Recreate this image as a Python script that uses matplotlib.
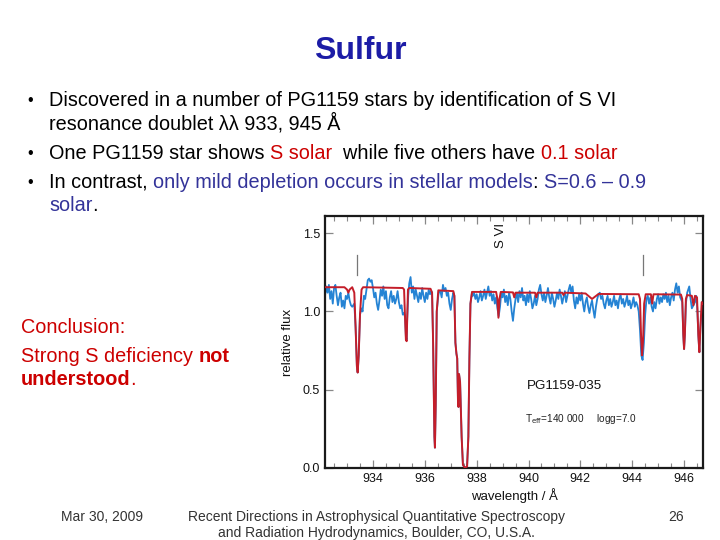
import matplotlib
matplotlib.use("Agg")
import matplotlib.pyplot as plt
from matplotlib import font_manager
from matplotlib.ticker import MultipleLocator

# ---------------- data ----------------
obs_wave = [932.15, 932.2, 932.25, 932.3, 932.35, 932.4, 932.45, 932.5, 932.55, 932.6, 932.65, 932.7, 932.75, 932.8, 932.85, 932.9, 932.95,
            933.0, 933.05, 933.1, 933.15, 933.2, 933.28, 933.33, 933.38, 933.41, 933.45, 933.5, 933.56, 933.6, 933.65, 933.7, 933.75, 933.8, 933.85, 933.9, 933.95,
            934.0, 934.05, 934.1, 934.15, 934.2, 934.25, 934.3, 934.35, 934.4, 934.45, 934.5, 934.55, 934.6, 934.65, 934.7, 934.75, 934.8, 934.85, 934.9, 934.95,
            935.0, 935.05, 935.1, 935.15, 935.2, 935.24, 935.27, 935.3, 935.32, 935.36, 935.4, 935.45, 935.5, 935.55, 935.6, 935.65, 935.7, 935.75, 935.8, 935.85, 935.9, 935.95,
            936.0, 936.05, 936.1, 936.15, 936.2, 936.25, 936.28, 936.32, 936.37, 936.39, 936.42, 936.46, 936.52, 936.55, 936.6, 936.65, 936.7, 936.75, 936.8, 936.85, 936.9, 936.95,
            937.0, 937.05, 937.1, 937.14, 937.18, 937.22, 937.25, 937.28, 937.3, 937.32, 937.36, 937.42, 937.47, 937.55, 937.63, 937.68, 937.72, 937.76, 937.82, 937.85, 937.9, 937.95,
            938.0, 938.05, 938.1, 938.15, 938.2, 938.25, 938.3, 938.35, 938.4, 938.45, 938.5, 938.55, 938.6, 938.65, 938.7, 938.75, 938.8, 938.85, 938.9, 938.95,
            939.0, 939.05, 939.1, 939.15, 939.2, 939.25, 939.3, 939.35, 939.4, 939.45, 939.5, 939.55, 939.6, 939.65, 939.7, 939.75, 939.8, 939.85, 939.9, 939.95,
            940.0, 940.05, 940.1, 940.15, 940.2, 940.25, 940.3, 940.35, 940.4, 940.45, 940.5, 940.55, 940.6, 940.65, 940.7, 940.75, 940.8, 940.85, 940.9, 940.95,
            941.0, 941.05, 941.1, 941.15, 941.2, 941.25, 941.3, 941.35, 941.4, 941.45, 941.5, 941.55, 941.6, 941.65, 941.7, 941.75, 941.8, 941.85, 941.9, 941.95,
            942.0, 942.05, 942.1, 942.15, 942.2, 942.25, 942.3, 942.35, 942.4, 942.45, 942.5, 942.55, 942.6, 942.65, 942.7, 942.75, 942.8, 942.85, 942.9, 942.95,
            943.0, 943.05, 943.1, 943.15, 943.2, 943.25, 943.3, 943.35, 943.4, 943.45, 943.5, 943.55, 943.6, 943.65, 943.7, 943.75, 943.8, 943.85, 943.9, 943.95,
            944.0, 944.05, 944.1, 944.15, 944.2, 944.25, 944.3, 944.35, 944.4, 944.45, 944.5, 944.55, 944.6, 944.65, 944.7, 944.75, 944.8, 944.85, 944.9, 944.95,
            945.0, 945.05, 945.1, 945.15, 945.2, 945.25, 945.3, 945.35, 945.4, 945.45, 945.5, 945.55, 945.6, 945.65, 945.7, 945.75, 945.8, 945.85, 945.88, 945.93,
            945.97, 946.0, 946.03, 946.07, 946.12, 946.2, 946.25, 946.3, 946.36, 946.42, 946.47, 946.51, 946.55, 946.59, 946.63, 946.68, 946.7]
obs_flux = [1.10, 1.16, 1.12, 1.17, 1.08, 1.13, 1.05, 1.15, 1.17, 1.10, 1.04, 1.09, 1.12, 1.03, 1.07, 1.02, 1.10,
            1.08, 1.12, 1.07, 1.04, 1.03, 1.05, 0.90, 0.65, 0.61, 0.72, 0.98, 1.02, 1.00, 1.10, 1.08, 1.14, 1.20, 1.21, 1.19, 1.20,
            1.15, 1.09, 1.12, 1.05, 1.01, 1.07, 1.14, 1.10, 1.16, 1.08, 1.13, 1.04, 1.02, 1.09, 1.13, 1.06, 1.10, 1.05, 1.08, 1.13,
            1.06, 1.02, 1.04, 0.98, 0.99, 0.96, 0.84, 0.82, 0.95, 1.10, 1.18, 1.22, 1.12, 1.16, 1.08, 1.14, 1.10, 1.06, 1.12, 1.08, 1.15, 1.10,
            1.06, 1.12, 1.08, 1.14, 1.11, 1.13, 1.12, 0.80, 0.20, 0.13, 0.40, 1.00, 1.10, 1.13, 1.13, 1.09, 1.17, 1.13, 1.15, 1.10, 1.12, 1.05,
            1.01, 1.08, 1.12, 1.10, 0.80, 0.73, 0.70, 0.42, 0.39, 0.60, 0.55, 0.20, 0.02, 0.00, 0.01, 0.20, 0.70, 1.05, 1.12, 1.10, 1.12, 1.08,
            1.11, 1.06, 1.09, 1.13, 1.07, 1.10, 1.14, 1.08, 1.12, 1.16, 1.10, 1.13, 1.07, 1.11, 1.05, 1.09, 1.02, 0.97, 1.03, 1.12,
            1.09, 1.14, 1.06, 1.10, 1.04, 1.12, 1.08, 1.00, 0.94, 1.02, 1.08, 1.12, 1.06, 1.13, 1.09, 1.15, 1.07, 1.10, 1.04, 1.11,
            1.06, 1.13, 1.08, 1.02, 1.05, 1.10, 1.04, 1.08, 1.14, 1.17, 1.11, 1.07, 1.12, 1.06, 1.10, 1.15, 1.09, 1.05, 1.12, 1.08,
            1.03, 1.07, 1.12, 1.08, 1.14, 1.10, 1.05, 1.09, 1.13, 1.06, 1.10, 1.14, 1.17, 1.12, 1.16, 1.07, 1.02, 1.09, 1.05, 1.11,
            1.07, 1.12, 1.05, 1.00, 1.06, 1.09, 1.03, 0.99, 1.04, 1.07, 1.01, 0.96, 1.03, 1.08, 1.11, 1.12, 1.08, 1.10, 1.05, 1.02,
            1.07, 1.10, 1.04, 1.08, 1.03, 1.06, 1.10, 1.04, 1.07, 1.02, 1.08, 1.11, 1.05, 1.08, 1.03, 1.06, 1.10, 1.04, 1.07, 1.02,
            1.05, 1.09, 1.03, 1.06, 1.04, 1.00, 0.88, 0.72, 0.69, 0.80, 0.98, 1.08, 1.10, 1.05, 1.09, 1.03, 1.00, 1.06, 1.02, 1.08,
            1.11, 1.05, 1.09, 1.06, 1.11, 1.08, 1.12, 1.06, 1.10, 1.04, 1.09, 1.12, 1.07, 1.14, 1.18, 1.12, 1.16, 1.09, 1.08, 1.06,
            0.85, 0.76, 0.85, 1.05, 1.12, 1.16, 1.08, 1.02, 1.04, 1.06, 1.10, 1.02, 0.85, 0.74, 0.90, 1.00, 0.97]

model_wave = [932.15, 932.9, 933.0, 933.05, 933.1, 933.2, 933.28, 933.33, 933.38, 933.41, 933.45, 933.5, 933.56, 933.62,
              935.15, 935.2, 935.24, 935.27, 935.3, 935.32, 935.35, 935.4,
              936.22, 936.28, 936.32, 936.37, 936.39, 936.42, 936.46, 936.52,
              937.1, 937.14, 937.18, 937.22, 937.25, 937.28, 937.3, 937.32, 937.36, 937.42, 937.47, 937.55, 937.63, 937.68, 937.72, 937.76, 937.82,
              938.75, 938.8, 938.84, 938.88, 938.93, 939.4, 939.45, 939.5, 940.25, 940.3, 940.35, 941.3, 941.35, 941.4,
              942.2, 942.45, 942.7, 944.25, 944.3, 944.34, 944.38, 944.42, 944.46, 944.52, 944.72, 944.77, 944.82,
              945.88, 945.93, 945.97, 946.0, 946.03, 946.07, 946.12, 946.3, 946.36, 946.42, 946.5, 946.55, 946.59, 946.63, 946.68, 946.73]
model_flux = [1.155, 1.155, 1.14, 1.12, 1.14, 1.155, 1.12, 0.90, 0.65, 0.61, 0.72, 0.98, 1.14, 1.155,
              1.15, 1.14, 0.95, 0.82, 0.81, 0.95, 1.14, 1.15,
              1.145, 1.12, 0.80, 0.20, 0.13, 0.40, 1.00, 1.135,
              1.13, 1.10, 0.80, 0.73, 0.70, 0.42, 0.39, 0.60, 0.55, 0.20, 0.02, 0.00, 0.01, 0.20, 0.70, 1.05, 1.125,
              1.125, 1.08, 0.96, 1.08, 1.125, 1.122, 1.09, 1.12, 1.12, 1.09, 1.12, 1.12, 1.105, 1.12,
              1.115, 1.08, 1.112, 1.11, 1.08, 0.85, 0.72, 0.82, 1.05, 1.11, 1.11, 1.05, 1.11,
              1.108, 1.08, 0.85, 0.76, 0.85, 1.08, 1.105, 1.10, 1.04, 1.10, 1.09, 0.85, 0.74, 0.90, 1.06, 1.05]

x_ticks = [934, 936, 938, 940, 942, 944, 946]
y_ticks = [0.0, 0.5, 1.0, 1.5]
svi_lines = [933.38, 944.40]

W, H = 720, 540

def has_font(name):
    try:
        font_manager.findfont(font_manager.FontProperties(family=name), fallback_to_default=False)
        return True
    except Exception:
        return False

FAM = ['Liberation Sans', 'DejaVu Sans']
if has_font('Liberation Sans Narrow'):
    FOOT = ['Liberation Sans Narrow', 'Liberation Sans']
    FOOT_SIZE = 12.0
else:
    FOOT = FAM
    FOOT_SIZE = 10.0

fig = plt.figure(figsize=(7.2, 5.4), dpi=100)
fig.patch.set_facecolor('white')
renderer = fig.canvas.get_renderer()

def fx(x):
    return x / W

def fy(y):
    return 1 - y / H

def text_width(s, size, weight='normal'):
    t = fig.text(0, 0, s, fontsize=size, fontweight=weight, family=FAM)
    w = t.get_window_extent(renderer).width
    t.remove()
    return w

def rainbow(x, y, parts, size):
    # place each coloured part at the advance of the preceding text
    prefix = ''
    for s, color, weight in parts:
        off = text_width(prefix + 'l', size) - text_width('l', size) if prefix else 0.0
        fig.text(fx(x + off), fy(y), s, color=color, fontsize=size, fontweight=weight,
                 family=FAM, va='baseline', ha='left')
        prefix += s

# title
fig.text(0.5, fy(59), 'Sulfur', ha='center', va='baseline', fontsize=23, fontweight='bold',
         color='#1c1ca6', family=FAM)

BS = 14.3
BLK = '#000000'
RED = '#cc0000'
PUR = '#333399'
for yb in (105, 158, 187):
    fig.text(fx(27), fy(yb), '•', fontsize=11.5, family=FAM, va='baseline', ha='left', color=BLK)

rainbow(49, 106, [('Discovered in a number of PG1159 stars by identification of S VI', BLK, 'normal')], BS)
rainbow(49, 129, [('resonance doublet λλ 933, 945 Å', BLK, 'normal')], BS)
rainbow(49, 159, [('One PG1159 star shows ', BLK, 'normal'), ('S solar', RED, 'normal'),
                  ('  while five others have ', BLK, 'normal'), ('0.1 solar', RED, 'normal')], BS)
rainbow(49, 188, [('In contrast, ', BLK, 'normal'),
                  ('only mild depletion occurs in stellar models', PUR, 'normal'),
                  (': ', BLK, 'normal'), ('S=0.6 – 0.9', PUR, 'normal')], BS)
rainbow(49, 211, [('solar', PUR, 'normal'), ('.', BLK, 'normal')], BS)

# conclusion
rainbow(21, 333, [('Conclusion:', RED, 'normal')], BS)
rainbow(21, 362, [('Strong S deficiency ', RED, 'normal'), ('not', RED, 'bold')], BS)
fig.text(fx(21), fy(385), 'understood', color=RED, fontsize=BS, fontweight='bold', family=FAM,
         va='baseline', ha='left')
uw = text_width('understoodl', BS, 'bold') - text_width('l', BS, 'bold')
fig.text(fx(21 + uw), fy(385), '.', color=RED, fontsize=BS, family=FAM, va='baseline', ha='left')

# footer
FC = '#333333'
fig.text(fx(61), fy(521), 'Mar 30, 2009', fontsize=FOOT_SIZE, family=FOOT, color=FC, va='baseline', ha='left')
fig.text(fx(376), fy(521), 'Recent Directions in Astrophysical Quantitative Spectroscopy', fontsize=FOOT_SIZE,
         family=FOOT, color=FC, va='baseline', ha='center')
fig.text(fx(376), fy(537), 'and Radiation Hydrodynamics, Boulder, CO, U.S.A.', fontsize=FOOT_SIZE,
         family=FOOT, color=FC, va='baseline', ha='center')
fig.text(fx(668), fy(521), '26', fontsize=FOOT_SIZE, family=FOOT, color=FC, va='baseline', ha='left')

# ---------------- spectrum panel ----------------
ax = fig.add_axes([fx(325), 1 - 468 / H, 378 / W, 252 / H])
ax.plot(obs_wave, obs_flux, color='#2483d4', lw=1.3, zorder=2)
ax.plot(model_wave, model_flux, color='#c41e2a', lw=1.4, zorder=3)
for w in svi_lines:
    ax.plot([w, w], [1.235, 1.36], color='#777777', lw=0.9, zorder=1)
ax.text(938.93, 1.484, 'S VI', rotation=90, ha='center', va='center', fontsize=9.5, family=FAM, color='#111111')
ax.text(939.95, 0.525, 'PG1159-035', ha='left', va='center', fontsize=9.6, family=FAM, color='#111111')
ax.text(939.87, 0.31, r'T$_{\rm eff}$=140 000     logg=7.0', ha='left', va='center', fontsize=7.2,
        family=FAM, color='#222222')

ax.set_xlim(932.15, 946.73)
ax.set_ylim(0, 1.61)
ax.set_xticks(x_ticks)
ax.set_yticks(y_ticks)
ax.set_yticklabels(['%.1f' % v for v in y_ticks])
ax.xaxis.set_minor_locator(MultipleLocator(0.5))
ax.tick_params(which='both', direction='in', top=True, right=True, colors='#888888',
               labelcolor='#111111', labelsize=9)
ax.tick_params(which='major', length=6, width=0.9)
ax.tick_params(which='minor', length=3.5, width=0.8)
for lab in ax.get_xticklabels() + ax.get_yticklabels():
    lab.set_family(FAM)
for s in ax.spines.values():
    s.set_linewidth(1.6)
    s.set_color('#1a1a1a')
ax.set_xlabel('wavelength / Å', fontsize=9.5, family=FAM, color='#111111', labelpad=2)
ax.set_ylabel('relative flux', fontsize=9.5, family=FAM, color='#111111', labelpad=6)

fig.savefig('out.png', dpi=100, facecolor='white')
